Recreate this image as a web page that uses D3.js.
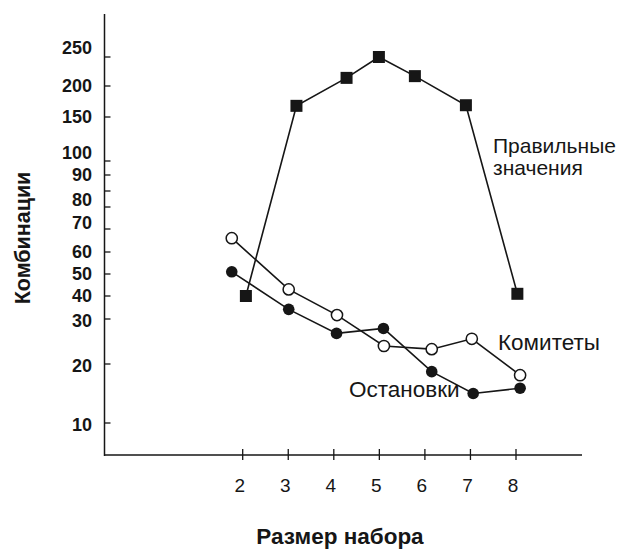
<!DOCTYPE html>
<html>
<head>
<meta charset="utf-8">
<script src="https://cdn.jsdelivr.net/npm/d3@7"></script>
<style>
  html, body { margin: 0; padding: 0; background: #fff; }
  svg { display: block; font-family: "Liberation Sans", Arial, Helvetica, sans-serif; }
</style>
</head>
<body>
<svg id="chart" width="622" height="549"></svg>
<script>
// ---- data ----
const xTicks = [2, 3, 4, 5, 6, 7, 8];
const yTicks = [10, 20, 30, 40, 50, 60, 70, 80, 90, 100, 150, 200, 250];
const yMinorTicks = [85];

const correctX = [2.07, 3.18, 4.28, 4.99, 5.78, 6.9, 8.03];
const correctY = [40, 168, 214, 250, 217, 169, 41];

const committeesX = [1.76, 3.01, 4.07, 5.1, 6.15, 7.03, 8.09];
const committeesY = [66, 43, 31.7, 24, 23.3, 25.6, 18.1];

const stopsX = [1.76, 3.01, 4.06, 5.09, 6.15, 7.06, 8.09];
const stopsY = [51, 34.2, 26.8, 27.9, 18.7, 15, 15.9];

const labels = {
  yTitle: "Комбинации",
  xTitle: "Размер набора",
  correct: ["Правильные", "значения"],
  committees: "Комитеты",
  stops: "Остановки"
};

// ---- layout ----
const svg = d3.select("#chart");
const axisX = 104.5, axisY = 455;
const ink = "#161616";

const x = d3.scaleLinear().domain([2, 8]).range([242.7, 516]);
// the printed value axis is irregular: piecewise mapping through its tick marks
const yDomain = [10, 20, 30, 40, 50, 60, 70, 80, 85, 90, 100, 150, 200, 250];
const yRange  = [423, 364, 319, 296, 274, 252, 229, 207, 191, 175, 161, 117, 86, 57];
const y = d3.scaleLinear().domain(yDomain).range(yRange);
// printed labels sit slightly off some tick marks
const labelNudge = { 250: -9, 100: -8, 80: -7, 70: -6, 30: 2, 20: 2, 10: 2 };

// axes lines
svg.append("line").attr("x1", axisX).attr("x2", axisX).attr("y1", 14).attr("y2", axisY + 1)
  .attr("stroke", ink).attr("stroke-width", 1.5);
svg.append("line").attr("x1", axisX).attr("x2", 582).attr("y1", axisY).attr("y2", axisY)
  .attr("stroke", ink).attr("stroke-width", 1.5);

// y ticks (pointing inward)
const yAxisG = svg.append("g");
yAxisG.selectAll("line").data(yTicks.concat(yMinorTicks)).join("line")
  .attr("x1", axisX).attr("x2", axisX + 6)
  .attr("y1", d => y(d)).attr("y2", d => y(d))
  .attr("stroke", ink).attr("stroke-width", 1.3);
yAxisG.selectAll("text").data(yTicks).join("text")
  .attr("x", 92).attr("y", d => y(d) + (labelNudge[d] || 0))
  .attr("dy", "0.36em")
  .attr("text-anchor", "end")
  .attr("font-size", 18).attr("font-weight", "bold")
  .attr("fill", ink)
  .text(d => d);

// x ticks (crossing)
const xAxisG = svg.append("g");
xAxisG.selectAll("line").data(xTicks).join("line")
  .attr("x1", d => x(d)).attr("x2", d => x(d))
  .attr("y1", axisY - 6).attr("y2", axisY + 5)
  .attr("stroke", ink).attr("stroke-width", 1.3);
xAxisG.selectAll("text").data(xTicks).join("text")
  .attr("x", d => x(d) - 3).attr("y", 492)
  .attr("text-anchor", "middle")
  .attr("font-size", 19)
  .attr("fill", ink)
  .text(d => d);

// titles
svg.append("text")
  .attr("transform", `translate(30,238) rotate(-90)`)
  .attr("text-anchor", "middle")
  .attr("font-size", 21.5).attr("font-weight", "bold").attr("fill", ink)
  .text(labels.yTitle);
svg.append("text")
  .attr("x", 340).attr("y", 544)
  .attr("text-anchor", "middle")
  .attr("font-size", 22.5).attr("font-weight", "bold").attr("fill", ink)
  .text(labels.xTitle);

// series
const line = d3.line().x(d => x(d[0])).y(d => y(d[1]));
const correct = correctX.map((v, i) => [v, correctY[i]]);
const committees = committeesX.map((v, i) => [v, committeesY[i]]);
const stops = stopsX.map((v, i) => [v, stopsY[i]]);

[correct, stops, committees].forEach(s => {
  svg.append("path").datum(s).attr("d", line)
    .attr("fill", "none").attr("stroke", ink).attr("stroke-width", 1.6);
});

svg.append("g").selectAll("rect").data(correct).join("rect")
  .attr("x", d => x(d[0]) - 6).attr("y", d => y(d[1]) - 6)
  .attr("width", 12).attr("height", 12)
  .attr("fill", ink);

svg.append("g").selectAll("circle").data(stops).join("circle")
  .attr("cx", d => x(d[0])).attr("cy", d => y(d[1])).attr("r", 5.8)
  .attr("fill", ink);

svg.append("g").selectAll("circle").data(committees).join("circle")
  .attr("cx", d => x(d[0])).attr("cy", d => y(d[1])).attr("r", 5.6)
  .attr("fill", "#fff").attr("stroke", ink).attr("stroke-width", 1.5);

// series labels
const corr = svg.append("text").attr("font-size", 21).attr("fill", ink);
corr.append("tspan").attr("x", 493).attr("y", 153).text(labels.correct[0]);
corr.append("tspan").attr("x", 493).attr("y", 175).text(labels.correct[1]);

svg.append("text").attr("x", 498).attr("y", 350)
  .attr("font-size", 22.5).attr("fill", ink).text(labels.committees);
svg.append("text").attr("x", 349).attr("y", 397)
  .attr("font-size", 22.5).attr("fill", ink).text(labels.stops);
</script>
</body>
</html>
